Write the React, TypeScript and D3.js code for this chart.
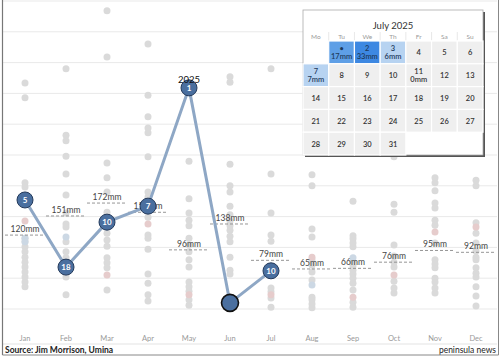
import React from "react";
import * as d3 from "d3";

const months = ["Jan", "Feb", "Mar", "Apr", "May", "Jun", "Jul", "Aug", "Sep", "Oct", "Nov", "Dec"];

const janHist = [367, 343, 205, 198, 115, 109, 101, 93, 84, 76, 68, 60, 52, 44, 36];
const febHist = [390, 282, 273, 248, 219, 185, 156, 138, 133, 109, 93, 83, 68, 52, 23];
const marHist = [484, 409, 237, 213, 190, 157, 133, 123, 112, 102, 83, 75, 67, 31];
const aprHist = [430, 347, 312, 294, 286, 247, 190, 182, 149, 120, 115, 97, 57, 42, 23, 13];
const mayHist = [240, 179, 156, 144, 135, 115, 104, 93, 80, 68, 44, 36, 29, 15, 6];
const junHist = [377, 368, 235, 200, 190, 167, 153, 143, 135, 128, 118, 109, 84, 63, 57];
const julHist = [390, 219, 156, 120, 110, 34, 28, 18, 3];
const augHist = [218, 200, 130, 117, 80, 71, 60, 47, 19, 15, 8, 2];
const sepHist = [175, 119, 114, 107, 101, 76, 70, 63, 57, 50, 42, 31, 11, 3];
const octHist = [247, 170, 157, 104, 86, 76, 68, 45, 34, 26];
const novHist = [213, 205, 192, 172, 164, 144, 136, 107, 80, 73, 67, 50, 44, 34, 26];
const decHist = [209, 200, 140, 123, 107, 94, 84, 80, 67, 58, 52, 36, 21, 5];
const history = [janHist, febHist, marHist, aprHist, mayHist, junHist, julHist, augHist, sepHist, octHist, novHist, decHist];

const pinkVals = [143, null, 55, 138, 23, null, 23, 84, 19, 55, 125, 133];
const blueVals = [[115, 109], [117], [], [], [], [], [], [39], [83], [], [], []];

const avgMm = [120, 151, 172, 157, 96, 138, 79, 65, 66, 76, 95, 92];

const values2025 = [177, 68, 141, 167, 359, 10, 62];
const ranks2025 = ["5", "18", "10", "7", "1", "", "10"];

const gridTicks = [0, 50, 100, 150, 200, 250, 300, 350, 400, 450, 500];

const weekdays = ["Mo", "Tu", "We", "Th", "Fr", "Sa", "Su"];
const julyDays = [1, 2, 3, 4, 5, 6, 7, 8, 9, 10, 11, 12, 13, 14, 15, 16, 17, 18, 19, 20, 21, 22, 23, 24, 25, 26, 27, 28, 29, 30, 31];
const julyRainDays = [1, 2, 3, 7, 11];
const julyRainMm = [17, 33, 6, 7, 0];
const firstWeekday = 1;

const FONT = "Lato, 'Open Sans', sans-serif";

export default function App() {
  const W = 500;
  const H = 357;
  const x = d3.scaleBand<string>().domain(months).range([4.5, 496.5]);
  const y = d3.scaleLinear().domain([0, 500]).range([309, 1]);
  const cx = (m: string) => (x(m) as number) + x.bandwidth() / 2;

  const line = d3
    .line<number>()
    .x((_, i) => cx(months[i]))
    .y((v) => y(v));

  // calendar geometry
  const calX = 303;
  const calY = 10;
  const calW = 180;
  const calH = 145;
  const cellW = calW / 7;
  const gridTop = 41;
  const cellH = (calY + calH - gridTop) / 5;
  const rainColor = d3
    .scaleThreshold<number, string>()
    .domain([1, 10, 25])
    .range(["#efefef", "#b7d3f1", "#5e9fe6", "#3d88e2"]);

  return (
    <svg
      width={W}
      height={H}
      style={{ position: "absolute", left: 0, top: 0, background: "#fff" }}
      fontFamily={FONT}
    >
      {/* gridlines */}
      {gridTicks.map((t) => (
        <line key={t} x1={3} x2={497} y1={y(t)} y2={y(t)} stroke="#e9e9e9" strokeWidth={1} />
      ))}

      {/* historical dots */}
      {history.map((vals, mi) => (
        <g key={months[mi]}>
          {vals.map((v, j) => (
            <circle key={j} cx={cx(months[mi])} cy={y(v)} r={3.5} fill="#dadada" />
          ))}
          {blueVals[mi].map((v, j) => (
            <circle key={"b" + j} cx={cx(months[mi])} cy={y(v)} r={3.5} fill="#ccd8e4" />
          ))}
          {pinkVals[mi] != null && (
            <circle cx={cx(months[mi])} cy={y(pinkVals[mi] as number)} r={3.5} fill="#e6cccc" />
          )}
        </g>
      ))}

      {/* averages */}
      {avgMm.map((v, i) => (
        <g key={"avg" + i}>
          <line
            x1={cx(months[i]) - 20}
            x2={cx(months[i]) + 20}
            y1={y(v)}
            y2={y(v)}
            stroke="#8a8a8a"
            strokeWidth={0.9}
            strokeDasharray="3,2"
          />
          <text x={cx(months[i])} y={y(v) - 3} textAnchor="middle" fontSize={8.5} fill="#444">
            {v}mm
          </text>
        </g>
      ))}

      {/* 2025 line */}
      <path d={line(values2025) || ""} fill="none" stroke="#8ea7c5" strokeWidth={3} />
      {values2025.map((v, i) => {
        const last = ranks2025[i] === "";
        return (
          <g key={"p" + i}>
            <circle
              cx={cx(months[i])}
              cy={y(v)}
              r={last ? 8.5 : 8}
              fill="#4a6f9f"
              stroke={last ? "#111" : "#23395a"}
              strokeWidth={last ? 1.6 : 1}
            />
            <text
              x={cx(months[i])}
              y={y(v) + 3}
              textAnchor="middle"
              fontSize={8}
              fontWeight={700}
              fill="#fff"
            >
              {ranks2025[i]}
            </text>
          </g>
        );
      })}
      <text x={cx("May")} y={y(values2025[4]) - 5} textAnchor="middle" fontSize={9.5} fill="#111">
        2025
      </text>

      {/* month labels */}
      {months.map((m) => (
        <text key={m} x={cx(m)} y={341} textAnchor="middle" fontSize={7.5} fill="#9a9a9a">
          {m}
        </text>
      ))}

      {/* footer */}
      <line x1={3} x2={497} y1={344} y2={344} stroke="#e3e3e3" strokeWidth={1} />
      <text x={5} y={353} fontSize={8.5} fontWeight={700} fill="#222">
        Source: Jim Morrison, Umina
      </text>
      <text x={496} y={353} fontSize={8.5} textAnchor="end" fill="#222">
        peninsula news
      </text>

      {/* frame */}
      <line x1={2.5} x2={2.5} y1={0} y2={355} stroke="#777" strokeWidth={1.2} />
      <line x1={498.5} x2={498.5} y1={0} y2={355} stroke="#888" strokeWidth={1} />
      <line x1={2.5} x2={498.5} y1={355} y2={355} stroke="#888" strokeWidth={1} />

      {/* calendar */}
      <rect x={calX + 2} y={calY + 2} width={calW} height={calH} fill="#555" />
      <rect x={calX} y={calY} width={calW} height={calH} fill="#fff" stroke="#aaa" strokeWidth={0.8} />
      <text x={calX + calW / 2} y={calY + 19} textAnchor="middle" fontSize={9.5} fill="#333">
        July 2025
      </text>
      {weekdays.map((d, i) => (
        <g key={d}>
          {i > 0 && (
            <line
              x1={calX + i * cellW}
              x2={calX + i * cellW}
              y1={calY + 22}
              y2={gridTop}
              stroke="#e2e2e2"
              strokeWidth={0.8}
            />
          )}
          <text
            x={calX + (i + 0.5) * cellW}
            y={calY + 29}
            textAnchor="middle"
            fontSize={6.5}
            fill="#9a9a9a"
          >
            {d}
          </text>
        </g>
      ))}
      {julyDays.map((d) => {
        const idx = d - 1 + firstWeekday;
        const col = idx % 7;
        const row = Math.floor(idx / 7);
        const ri = julyRainDays.indexOf(d);
        const mm = ri >= 0 ? julyRainMm[ri] : null;
        const fill = mm == null ? "#efefef" : rainColor(mm);
        const x0 = calX + col * cellW;
        const y0 = gridTop + row * cellH;
        const textFill = mm != null && mm > 0 ? "#1d3a5c" : "#333";
        return (
          <g key={d}>
            <rect
              x={x0}
              y={y0}
              width={cellW}
              height={cellH}
              fill={fill}
              stroke="#fff"
              strokeWidth={1.2}
            />
            {mm == null ? (
              <text
                x={x0 + cellW / 2}
                y={y0 + cellH / 2 + 3}
                textAnchor="middle"
                fontSize={7.5}
                fontWeight={600}
                fill={textFill}
              >
                {d}
              </text>
            ) : (
              <>
                <text
                  x={x0 + cellW / 2}
                  y={y0 + cellH / 2 - 1.5}
                  textAnchor="middle"
                  fontSize={7.5}
                  fontWeight={600}
                  fill={textFill}
                >
                  {d === 1 ? "•" : d}
                </text>
                <text
                  x={x0 + cellW / 2}
                  y={y0 + cellH / 2 + 7}
                  textAnchor="middle"
                  fontSize={7.5}
                  fontWeight={600}
                  fill={textFill}
                >
                  {mm}mm
                </text>
              </>
            )}
          </g>
        );
      })}
    </svg>
  );
}
